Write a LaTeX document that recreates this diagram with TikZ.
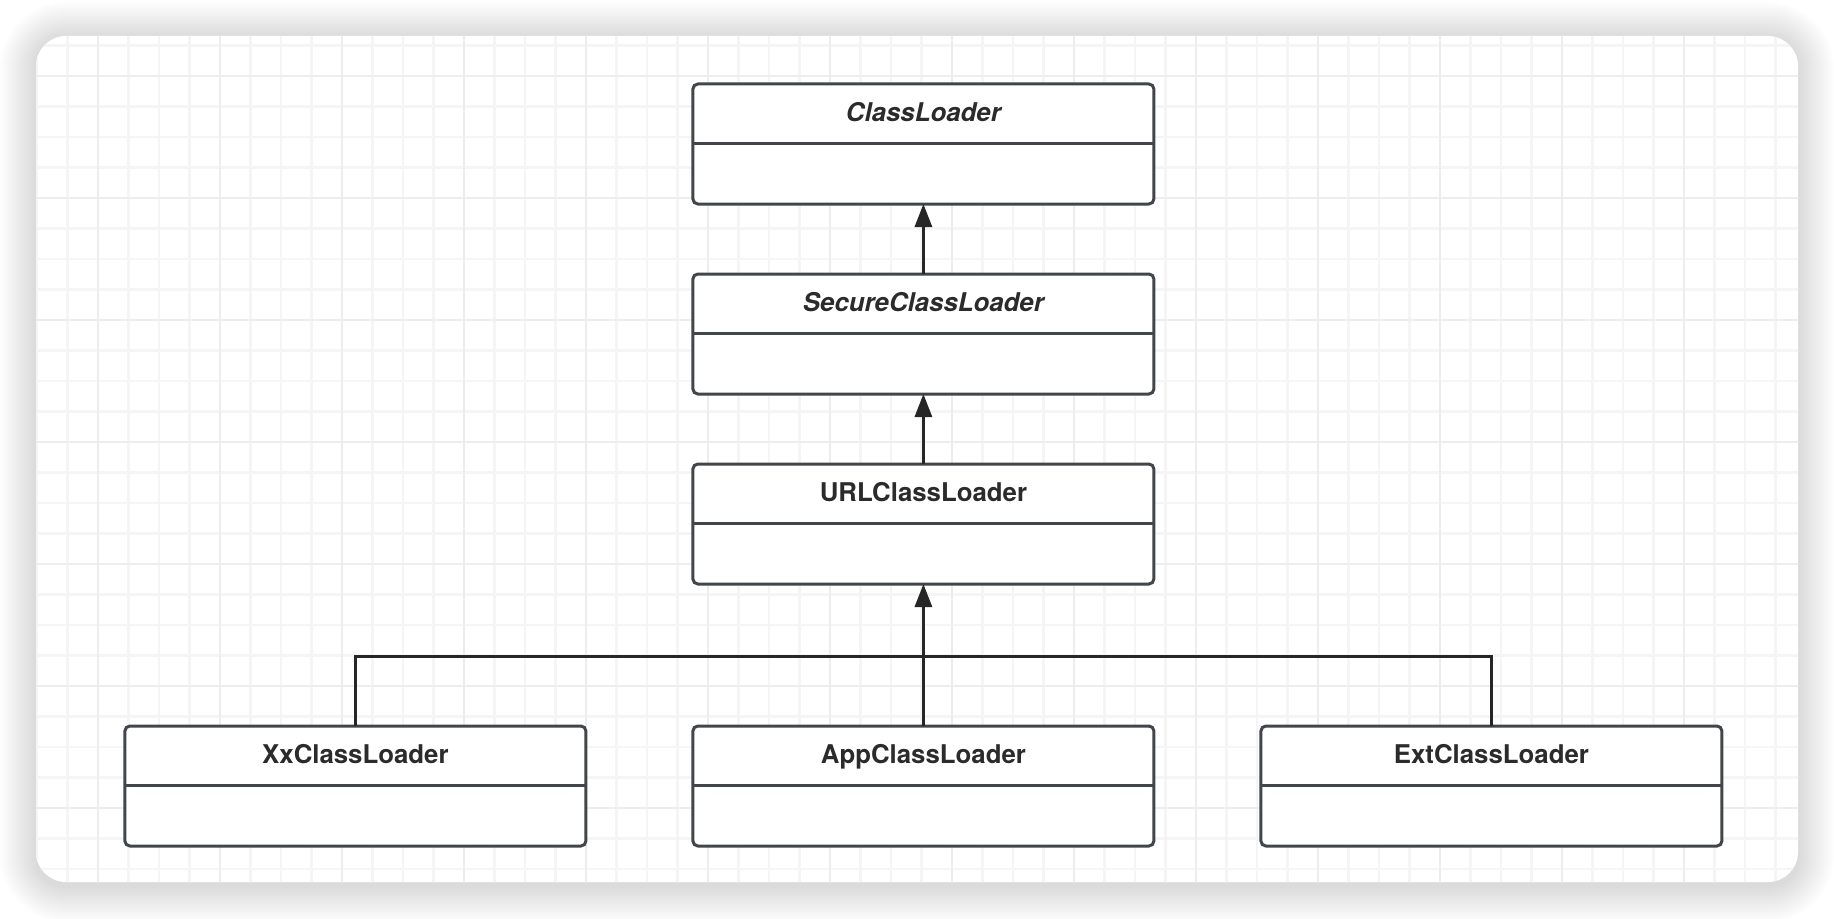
\documentclass[tikz,border=0pt]{standalone}
\usepackage{fontspec}
\setmainfont{TeX Gyre Heros}
\usetikzlibrary{positioning, arrows.meta}

\definecolor{boxline}{HTML}{42464B}
\definecolor{linkline}{HTML}{262626}
\definecolor{nametext}{HTML}{2B2B2B}

\begin{document}
\begin{tikzpicture}[>={Triangle[length=11.5pt,width=8.5pt]},node distance=35pt]
    \tikzstyle{classbox}=[draw=boxline,line width=1.5pt,rounded corners=2.5pt,fill=white,minimum width=230.5pt,minimum height=60pt,inner sep=0pt,outer sep=0pt]
    \tikzstyle{classname}=[anchor=base,text=nametext,font=\fontsize{12.9}{15}\selectfont\bfseries,inner sep=0pt]
    \tikzstyle{divider}=[draw=boxline,line width=1.5pt]
    \tikzstyle{link}=[draw=linkline,line width=1.5pt]

    % card with soft shadow and grid paper
    \useasboundingbox (0,0) rectangle (917pt,459pt);
    \foreach \i [evaluate=\i as \r using 15+\i] in {1,...,18}
        \fill[black,opacity=0.008,rounded corners=\r pt] (18pt-\i pt,16pt-\i pt) rectangle (899pt+\i pt,440pt+\i pt);
    \fill[white,rounded corners=15pt] (18pt,18pt) rectangle (899pt,441pt);
    \begin{scope}
        \clip[rounded corners=15pt] (18pt,18pt) rectangle (899pt,441pt);
        \draw[black!4,line width=1.2pt,step=15.25pt,shift={(49pt,55pt)}] (-61pt,-61pt) grid (900pt,420pt);
        \draw[black!7,line width=1.4pt,step=61pt,shift={(49pt,55pt)}] (-61pt,-61pt) grid (900pt,420pt);
    \end{scope}

    % class boxes
    \node[classbox] (cl) at (461.7pt,387pt) {};
    \node[classbox] (scl) [below=of cl] {};
    \node[classbox] (ucl) [below=of scl] {};
    \node[classbox] (acl) [below=71pt of ucl] {};
    \node[classbox] (xcl) [left=53.5pt of acl] {};
    \node[classbox] (ecl) [right=53.5pt of acl] {};

    \node[classname] (cl-name) at ([yshift=-18.85pt]cl.north) {\itshape ClassLoader};
    \node[classname] (scl-name) at ([yshift=-18.85pt]scl.north) {\itshape SecureClassLoader};
    \node[classname] (ucl-name) at ([yshift=-18.85pt]ucl.north) {URLClassLoader};
    \node[classname] (xcl-name) at ([yshift=-18.85pt]xcl.north) {XxClassLoader};
    \node[classname] (acl-name) at ([yshift=-18.85pt]acl.north) {AppClassLoader};
    \node[classname] (ecl-name) at ([yshift=-18.85pt]ecl.north) {ExtClassLoader};

    \foreach \n in {cl,scl,ucl,xcl,acl,ecl}
        \draw[divider] ([yshift=0.5pt]\n.west) -- ([yshift=0.5pt]\n.east);

    % inheritance
    \coordinate (fork) at ([yshift=35pt]acl.north);
    \draw[link,->] (scl) -- (cl);
    \draw[link,->] (ucl) -- (scl);
    \draw[link] (xcl) |- (fork) -| (ecl);
    \draw[link,->] (acl) -- (ucl);
\end{tikzpicture}
\end{document}
